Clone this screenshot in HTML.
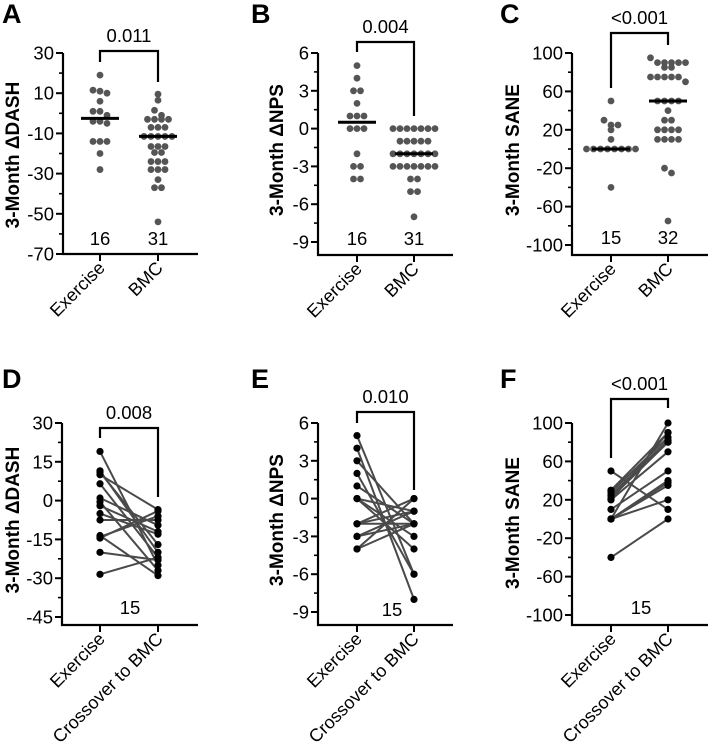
<!DOCTYPE html>
<html><head><meta charset="utf-8"><style>
html,body{margin:0;padding:0;background:#fff}
svg{display:block}
text{font-family:"Liberation Sans",Arial,sans-serif;fill:#000}
.tk{font-size:18.5px}
.yt{font-size:19px;font-weight:bold}
.pl{font-size:27px;font-weight:bold}
.cl{font-size:18px}
</style></head><body>
<svg id="fig" width="708" height="742" viewBox="0 0 708 742"></svg>
<script>
// ---- Panel A data ----
const aCategories=["Exercise","BMC"];
const aExercise=[19,11,10,11.5,6,1,1,-1,-4,-4,-5,-14,-14,-14,-20,-28];
const aBMC=[9.5,6.5,1.5,-1,-3,-3,-3,-3,-7,-7,-7,-11.5,-11.5,-11.5,-11.5,-16.5,-16.5,-16.5,-19.5,-19.5,-24,-24,-24,-28,-28,-28,-33,-37,-37,-54,-11.5];
const aTicks=[30,10,-10,-30,-50,-70];
const aP="0.011";
// ---- Panel B data ----
const bExercise=[5,4,3,3,2,1,1,1,0,0,0,-2,-3,-3,-4,-4];
const bBMC=[0,0,0,0,0,0,0,-1,-1,-1,-1,-1,-2,-2,-2,-2,-2,-2,-2,-3,-3,-3,-3,-3,-3,-3,-4,-4,-5,-5,-7];
const bTicks=[6,3,0,-3,-6,-9];
const bP="0.004";
// ---- Panel C data ----
const cExercise=[50,30,25,25,20,10,0,0,0,0,0,0,0,0,-40];
const cBMC=[95,90,90,90,90,90,85,85,75,75,75,75,75,70,50,50,50,50,40,30,30,20,20,20,20,10,10,10,10,-20,-25,-75];
const cTicks=[100,60,20,-20,-60,-100];
const cP="<0.001";
// ---- Panel D data (paired) ----
const dExercise=[19,11.5,11,10,6.5,1,-0.5,-2,-5,-7.5,-14,-14.5,-13.5,-20,-28.5];
const dCrossover=[-25,-20,-17,-3.5,-22,-9.5,-27,-12,-13,-7.5,-6,-4,-29,-23,-22];
const dTicks=[30,15,0,-15,-30,-45];
const dP="0.008";
// ---- Panel E data (paired) ----
const eExercise=[5,4,3,2,1,0,0,0,-2,-2,-2,-3,-3,-4,-4];
const eCrossover=[-6,-8,-2,-6,-2,-3,-4,-1,-2,-1,0,-2,-1,0,-2];
const eTicks=[6,3,0,-3,-6,-9];
const eP="0.010";
// ---- Panel F data (paired) ----
const fExercise=[50,30,28,25,22,20,10,0,0,0,0,0,-40,20,25];
const fCrossover=[10,90,85,82,80,70,50,40,38,35,20,100,0,90,80];
const fTicks=[100,60,20,-20,-60,-100];
const fP="<0.001";
const topCats=["Exercise","BMC"];
const botCats=["Exercise","Crossover to BMC"];

const NS="http://www.w3.org/2000/svg";
const svg=document.getElementById('fig');
function mk(tag,attrs,parent,txt){const e=document.createElementNS(NS,tag);for(const k in attrs)e.setAttribute(k,attrs[k]);if(txt!==undefined)e.textContent=txt;(parent||svg).appendChild(e);return e;}

function panel(o){
  const g=mk('g',{});
  
  
  const ticks=o.ticks, vmax=ticks[0], vmin=ticks[ticks.length-1];
  const y=v=>o.yTop+(vmax-v)*(o.yBot-o.yTop)/(vmax-vmin);
  const L=mk('text',{x:o.lx,y:o.ly,class:'pl'},g,o.letter);
  
  
  const ya=mk('line',{x1:o.ax,y1:o.yTop,x2:o.ax,y2:o.axisY+1,stroke:'#000','stroke-width':2.2},g);
  
  
  const xa=mk('line',{x1:o.ax-1,y1:o.axisY,x2:o.axEnd,y2:o.axisY,stroke:'#000','stroke-width':2.2},g);
  
  
  const step=ticks[0]-ticks[1];
  for(let i=0;i<ticks.length;i++){
    const ty=y(ticks[i]);
    mk('line',{x1:o.ax-7,y1:ty,x2:o.ax,y2:ty,stroke:'#000','stroke-width':2},g);
    const t=mk('text',{x:o.ax-9,y:ty+6.5,class:'tk','text-anchor':'end'},g,String(ticks[i]));
    
    
    if(i<ticks.length-1){const my=y(ticks[i]-step/2);mk('line',{x1:o.ax-4,y1:my,x2:o.ax,y2:my,stroke:'#000','stroke-width':1.6},g);}
  }
  const yt=mk('text',{x:0,y:0,class:'yt','text-anchor':'middle',transform:`translate(${o.ytx},${o.yty}) rotate(-90)`},g,o.ytitle);
  
  
  o.cats.forEach((c,i)=>{
    const cx=o.cx[i];
    mk('line',{x1:cx,y1:o.axisY,x2:cx,y2:o.axisY+7,stroke:'#000','stroke-width':2},g);
    const t=mk('text',{x:0,y:0,class:'cl','text-anchor':'end',transform:`translate(${cx+6},${o.axisY+15}) rotate(-45)`},g,c);
    
    
  });
  const b=mk('path',{d:`M${o.cx[0]},${o.bl} V${o.bt} H${o.cx[1]} V${o.br}`,fill:'none',stroke:'#000','stroke-width':2.2},g);
  
  
  const p=mk('text',{x:(o.cx[0]+o.cx[1])/2,y:o.bt-9,class:'tk','text-anchor':'middle'},g,o.p);
  
  
  o.nlabels.forEach((n,i)=>{
    const t=mk('text',{x:o.nx[i],y:o.ny,class:'tk','text-anchor':'middle'},g,n);
    
    
  });
  if(o.paired){
    const a=o.series[0],c=o.series[1];
    for(let i=0;i<a.length;i++){
      const l=mk('line',{x1:o.cx[0],y1:y(a[i]),x2:o.cx[1],y2:y(c[i]),stroke:'#4a4a4a','stroke-width':2},g);
      
      
    }
    [a,c].forEach((s,k)=>s.forEach(v=>{
      const d=mk('circle',{cx:o.cx[k],cy:y(v),r:3.6,fill:'#000'},g);
      
      
    }));
  } else {
    o.series.forEach((s,k)=>{
      const sorted=s.slice().sort((p,q)=>q-p);
      const rows=[];
      sorted.forEach(v=>{const py=y(v);const r=rows.find(r=>Math.abs(r.y0-py)<5.5);if(r)r.vals.push(v);else rows.push({y0:py,vals:[v]});});
      rows.forEach(r=>{
        const n=r.vals.length;
        r.vals.forEach((v,j)=>{
          const d=mk('circle',{cx:o.cx[k]+(j-(n-1)/2)*7,cy:y(v),r:3.4,fill:'#555'},g);
          
          
        });
      });
      const m=s.slice().sort((p,q)=>p-q);const med=m.length%2?m[(m.length-1)/2]:(m[m.length/2-1]+m[m.length/2])/2;
      const ml=mk('line',{x1:o.cx[k]-19,y1:y(med),x2:o.cx[k]+19,y2:y(med),stroke:'#000','stroke-width':3},g);
      
      
    });
  }
}
panel({letter:'A',lx:2,ly:23,ticks:aTicks,yTop:53,yBot:254,axisY:254,ax:63,axEnd:198,cx:[100,158],cats:aCategories,ytitle:'3-Month ΔDASH',ytx:19,yty:155,series:[aExercise,aBMC],bt:51,bl:62,br:82,p:aP,nlabels:['16','31'],nx:[100,158],ny:245});
panel({letter:'B',lx:251,ly:23,ticks:bTicks,yTop:53,yBot:242,axisY:255,ax:318,axEnd:453,cx:[357,414],cats:topCats,ytitle:'3-Month ΔNPS',ytx:283,yty:150,series:[bExercise,bBMC],bt:42,bl:52,br:116,p:bP,nlabels:['16','31'],nx:[357,414],ny:245});
panel({letter:'C',lx:500,ly:23,ticks:cTicks,yTop:53,yBot:245,axisY:255,ax:572,axEnd:708,cx:[611,668],cats:topCats,ytitle:'3-Month SANE',ytx:519,yty:150,series:[cExercise,cBMC],bt:33,bl:88,br:45,p:cP,nlabels:['15','32'],nx:[611,668],ny:244});
panel({letter:'D',lx:2,ly:388,ticks:dTicks,yTop:423,yBot:617,axisY:625,ax:62,axEnd:198,cx:[100,158],cats:botCats,ytitle:'3-Month ΔDASH',ytx:19,yty:520,series:[dExercise,dCrossover],paired:true,bt:428,bl:438,br:497,p:dP,nlabels:['15'],nx:[130],ny:614});
panel({letter:'E',lx:251,ly:388,ticks:eTicks,yTop:423,yBot:612,axisY:625,ax:318,axEnd:453,cx:[357,414],cats:botCats,ytitle:'3-Month ΔNPS',ytx:283,yty:520,series:[eExercise,eCrossover],paired:true,bt:412,bl:423,br:490,p:eP,nlabels:['15'],nx:[392],ny:616});
panel({letter:'F',lx:500,ly:388,ticks:fTicks,yTop:423,yBot:615,axisY:625,ax:572,axEnd:708,cx:[611,668],cats:botCats,ytitle:'3-Month SANE',ytx:519,yty:523,series:[fExercise,fCrossover],paired:true,bt:399,bl:458,br:408,p:fP,nlabels:['15'],nx:[641],ny:614});
</script>
</body></html>
